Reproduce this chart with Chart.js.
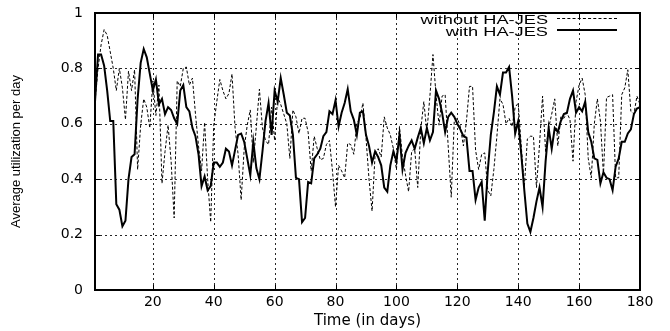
<!DOCTYPE html>
<html>
<head>
<meta charset="utf-8">
<script src="https://cdn.jsdelivr.net/npm/chart.js@4.4.0/dist/chart.umd.min.js"></script>
<style>
  html, body { margin: 0; padding: 0; background: #fff; }
  #wrap { position: relative; width: 670px; height: 331px; }
  .key-text {
    position: absolute; right: 122px; height: 13px; line-height: 13px;
    font: 13px "Liberation Sans", Arial, sans-serif; color: #000; white-space: nowrap;
    transform: scaleX(1.4); transform-origin: right center;
  }
  .key-line { position: absolute; left: 557px; width: 60px; height: 0; }
  #keyDashed { top: 18px; border-top: 1px dashed #000; }
  #keySolid { top: 29px; border-top: 2px solid #000; }
</style>
</head>
<body>
<div id="wrap">
  <canvas id="utilChart" width="670" height="331"></canvas>
  <div class="key-text" id="keyText0" style="top: 12px;"></div>
  <div class="key-line" id="keyDashed"></div>
  <div class="key-text" id="keyText1" style="top: 24px;"></div>
  <div class="key-line" id="keySolid"></div>
</div>
<script>
// days 1..180 on the x axis
const days = [];
for (let d = 1; d <= 180; d++) days.push(d);

const xTicks = [20, 40, 60, 80, 100, 120, 140, 160, 180];
const yTicks = [0, 0.2, 0.4, 0.6, 0.8, 1];
const seriesNames = ['without HA-JES', 'with HA-JES'];

// average utilization per day
const withoutHaJes = [
  0.68, 0.80, 0.885, 0.94, 0.92, 0.86, 0.80, 0.72, 0.80, 0.73,
  0.615, 0.79, 0.72, 0.795, 0.435, 0.595, 0.69, 0.66, 0.585, 0.755,
  0.63, 0.74, 0.385, 0.50, 0.595, 0.465, 0.26, 0.755, 0.735, 0.80,
  0.805, 0.74, 0.765, 0.635, 0.52, 0.43, 0.605, 0.40, 0.245, 0.595,
  0.68, 0.76, 0.72, 0.69, 0.71, 0.78, 0.585, 0.49, 0.325, 0.51,
  0.595, 0.65, 0.46, 0.59, 0.725, 0.585, 0.54, 0.525, 0.66, 0.54,
  0.695, 0.67, 0.635, 0.60, 0.475, 0.65, 0.625, 0.565, 0.62, 0.62,
  0.57, 0.43, 0.555, 0.51, 0.47, 0.475, 0.525, 0.54, 0.43, 0.30,
  0.45, 0.43, 0.405, 0.53, 0.525, 0.49, 0.60, 0.62, 0.675, 0.55,
  0.40, 0.285, 0.49, 0.51, 0.48, 0.625, 0.585, 0.56, 0.51, 0.435,
  0.59, 0.48, 0.415, 0.355, 0.50, 0.51, 0.37, 0.58, 0.68, 0.57,
  0.70, 0.85, 0.705, 0.595, 0.70, 0.705, 0.52, 0.335, 0.61, 0.62,
  0.59, 0.52, 0.61, 0.735, 0.735, 0.505, 0.435, 0.49, 0.495, 0.36,
  0.34, 0.435, 0.555, 0.69, 0.67, 0.60, 0.62, 0.59, 0.66, 0.675,
  0.52, 0.37, 0.545, 0.555, 0.555, 0.37, 0.525, 0.70, 0.50, 0.585,
  0.635, 0.69, 0.52, 0.625, 0.62, 0.64, 0.615, 0.465, 0.68, 0.74,
  0.765, 0.705, 0.475, 0.405, 0.60, 0.69, 0.61, 0.415, 0.695, 0.70,
  0.705, 0.405, 0.405, 0.705, 0.73, 0.795, 0.645, 0.635, 0.70, 0.67
];

const withHaJes = [
  0.68, 0.85, 0.85, 0.81, 0.72, 0.61, 0.61, 0.31, 0.29, 0.23,
  0.25, 0.40, 0.48, 0.49, 0.69, 0.82, 0.87, 0.84, 0.78, 0.72,
  0.76, 0.67, 0.69, 0.635, 0.66, 0.65, 0.62, 0.60, 0.72, 0.74,
  0.66, 0.645, 0.585, 0.555, 0.49, 0.375, 0.41, 0.36, 0.375, 0.46,
  0.46, 0.445, 0.46, 0.51, 0.50, 0.45, 0.505, 0.56, 0.565, 0.535,
  0.475, 0.415, 0.535, 0.44, 0.40, 0.50, 0.61, 0.675, 0.56, 0.72,
  0.68, 0.765, 0.705, 0.64, 0.63, 0.56, 0.405, 0.40, 0.245, 0.26,
  0.39, 0.385, 0.475, 0.49, 0.51, 0.555, 0.57, 0.645, 0.635, 0.685,
  0.59, 0.64, 0.675, 0.725, 0.645, 0.615, 0.56, 0.64, 0.645, 0.56,
  0.52, 0.46, 0.50, 0.48, 0.45, 0.37, 0.355, 0.45, 0.50, 0.465,
  0.56, 0.435, 0.495, 0.52, 0.54, 0.51, 0.55, 0.585, 0.53, 0.585,
  0.54, 0.57, 0.72, 0.69, 0.64, 0.57, 0.625, 0.64, 0.625, 0.60,
  0.58, 0.555, 0.55, 0.43, 0.43, 0.325, 0.37, 0.39, 0.25, 0.43,
  0.56, 0.64, 0.735, 0.705, 0.785, 0.785, 0.805, 0.70, 0.565, 0.61,
  0.49, 0.36, 0.24, 0.21, 0.26, 0.32, 0.37, 0.30, 0.465, 0.585,
  0.51, 0.585, 0.57, 0.61, 0.635, 0.64, 0.69, 0.72, 0.64, 0.66,
  0.645, 0.68, 0.57, 0.535, 0.475, 0.47, 0.385, 0.425, 0.405, 0.40,
  0.36, 0.445, 0.475, 0.535, 0.535, 0.565, 0.58, 0.635, 0.655, 0.66
];

// key labels as page text over the canvas
document.getElementById('keyText0').textContent = seriesNames[0];
document.getElementById('keyText1').textContent = seriesNames[1];

// dotted grid under the lines, from the scales' own ticks
const gnuGrid = {
  id: 'gnuGrid',
  beforeDatasetsDraw(chart) {
    const { ctx, chartArea: a, scales: { x, y } } = chart;
    ctx.save();
    ctx.strokeStyle = 'rgba(0,0,0,0.85)';
    ctx.lineWidth = 1;
    ctx.setLineDash([2, 3]);
    ctx.beginPath();
    x.ticks.forEach(t => {
      const px = Math.round(x.getPixelForValue(t.value)) + 0.5;
      ctx.moveTo(px, a.top); ctx.lineTo(px, a.bottom);
    });
    y.ticks.forEach(t => {
      const py = Math.round(y.getPixelForValue(t.value)) + 0.5;
      ctx.moveTo(a.left, py); ctx.lineTo(a.right, py);
    });
    ctx.stroke();
    ctx.restore();
  }
};

// frame with small inward tick marks on all four sides
const gnuFrame = {
  id: 'gnuFrame',
  afterDatasetsDraw(chart) {
    const { ctx, chartArea: a, scales: { x, y } } = chart;
    ctx.save();
    ctx.strokeStyle = '#000';
    ctx.lineWidth = 2;
    ctx.strokeRect(a.left, a.top, a.right - a.left, a.bottom - a.top);
    ctx.lineWidth = 1;
    ctx.beginPath();
    x.ticks.forEach(t => {
      const px = Math.round(x.getPixelForValue(t.value)) + 0.5;
      ctx.moveTo(px, a.bottom); ctx.lineTo(px, a.bottom - 5);
      ctx.moveTo(px, a.top); ctx.lineTo(px, a.top + 5);
    });
    y.ticks.forEach(t => {
      const py = Math.round(y.getPixelForValue(t.value)) + 0.5;
      ctx.moveTo(a.left, py); ctx.lineTo(a.left + 5, py);
      ctx.moveTo(a.right, py); ctx.lineTo(a.right - 5, py);
    });
    ctx.stroke();
    ctx.restore();
  }
};

const ctx = document.getElementById('utilChart').getContext('2d');
new Chart(ctx, {
  type: 'line',
  data: {
    labels: days,
    datasets: [{
      label: seriesNames[0],
      data: withoutHaJes,
      borderColor: '#000',
      borderWidth: 1,
      borderDash: [3, 2],
      pointRadius: 0,
      tension: 0,
      fill: false
    }, {
      label: seriesNames[1],
      data: withHaJes,
      borderColor: '#000',
      borderWidth: 2,
      pointRadius: 0,
      tension: 0,
      fill: false
    }]
  },
  options: {
    responsive: false,
    animation: false,
    devicePixelRatio: 1,
    layout: { padding: { left: 0, right: 30, top: 13, bottom: 0 } },
    plugins: {
      legend: { display: false },
      tooltip: { enabled: false }
    },
    scales: {
      x: {
        type: 'linear',
        min: 1,
        max: 180,
        afterBuildTicks: scale => { scale.ticks = xTicks.map(v => ({ value: v })); },
        afterFit: scale => { scale.height = 41; scale.paddingLeft = 0; scale.paddingRight = 0; },
        grid: { display: false, drawTicks: false },
        border: { display: false },
        ticks: {
          color: '#000',
          padding: 4,
          maxRotation: 0,
          font: { family: 'DejaVu Sans', size: 14 }
        },
        title: {
          display: true,
          text: 'Time (in days)',
          color: '#000',
          padding: { top: 0, bottom: 1 },
          font: { family: 'DejaVu Sans', size: 15 }
        }
      },
      y: {
        min: 0,
        max: 1,
        afterBuildTicks: scale => { scale.ticks = yTicks.map(v => ({ value: v })); },
        afterFit: scale => { scale.width = 95; scale.paddingTop = 0; scale.paddingBottom = 0; },
        grid: { display: false, drawTicks: false },
        border: { display: false },
        ticks: {
          color: '#000',
          padding: 12,
          font: { family: 'DejaVu Sans', size: 14 },
          callback: v => String(Math.round(v * 10) / 10)
        },
        title: {
          display: true,
          text: 'Average utilization per day',
          color: '#000',
          padding: { top: 9, bottom: 0 },
          font: { family: 'Liberation Sans', size: 13 }
        }
      }
    }
  },
  plugins: [gnuGrid, gnuFrame]
});
</script>
</body>
</html>
